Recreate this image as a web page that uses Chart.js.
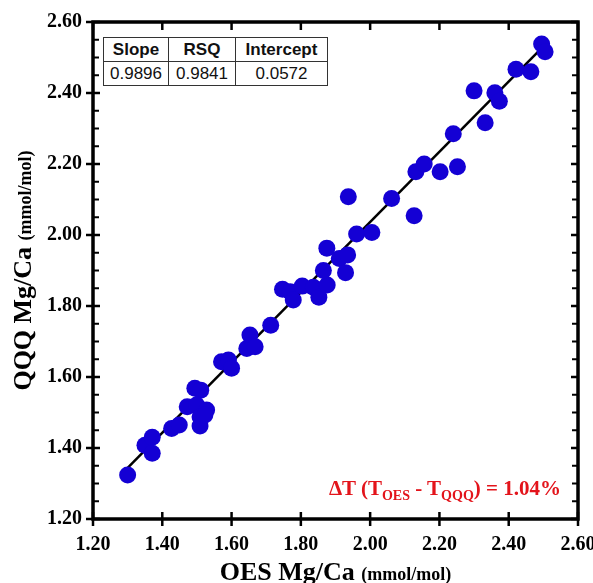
<!DOCTYPE html>
<html>
<head>
<meta charset="utf-8">
<script src="https://cdn.jsdelivr.net/npm/chart.js@4.4.1/dist/chart.umd.min.js"></script>
<style>
html,body{margin:0;padding:0;background:#fff;}
#wrap{position:relative;width:593px;height:583px;}
#stats{position:absolute;left:103px;top:37px;width:224px;border-collapse:collapse;table-layout:fixed;background:#fff;
  font-family:"Liberation Sans",Arial,sans-serif;font-size:17px;color:#111;}
#stats th,#stats td{border:1.5px solid #333;padding:0;text-align:center;height:23px;line-height:20px;}
#stats th{font-weight:bold;}
#note{position:absolute;right:32px;top:477px;color:#e3141b;font:bold 21px "Liberation Serif","Times New Roman",serif;white-space:nowrap;line-height:22px;}
#note sub{font-size:14px;vertical-align:-5px;}
</style>
</head>
<body>
<div id="wrap">
  <canvas id="chart" width="593" height="583"></canvas>
  <table id="stats">
    <colgroup><col style="width:65px"><col style="width:67px"><col style="width:92px"></colgroup>
    <tr><th>Slope</th><th>RSQ</th><th>Intercept</th></tr>
    <tr><td>0.9896</td><td>0.9841</td><td>0.0572</td></tr>
  </table>
  <div id="note">&Delta;T (T<sub>OES</sub> - T<sub>QQQ</sub>) = 1.04%</div>
</div>
<script>
// ═══════════ DATA ═══════════
const oesX=[1.300,1.350,1.371,1.371,1.427,1.449,1.472,1.494,1.511,1.499,1.528,1.509,1.509,1.523,
  1.571,1.591,1.600,1.644,1.653,1.668,1.713,1.747,1.769,1.778,1.804,1.836,1.852,1.876,1.865,1.875,
  1.911,1.935,1.929,1.937,1.961,2.005,2.062,2.127,2.132,2.156,2.202,2.252,2.240,2.332,2.300,2.360,
  2.373,2.421,2.464,2.495,2.505];
const qqqY=[1.324,1.408,1.430,1.385,1.455,1.465,1.516,1.568,1.563,1.521,1.507,1.488,1.462,1.493,
  1.643,1.648,1.625,1.680,1.718,1.685,1.746,1.847,1.840,1.817,1.856,1.853,1.825,1.859,1.900,1.963,
  1.934,1.944,1.894,2.108,2.003,2.007,2.103,2.054,2.178,2.200,2.178,2.192,2.285,2.316,2.406,2.401,
  2.377,2.467,2.460,2.538,2.516];
// regression line ends
const fitX=[1.30,2.51];
const fitY=[1.344,2.541];
const xTicks=[1.2,1.4,1.6,1.8,2.0,2.2,2.4,2.6];
const yTicks=[1.2,1.4,1.6,1.8,2.0,2.2,2.4,2.6];
const yMinor=[1.25,1.3,1.35,1.45,1.5,1.55,1.65,1.7,1.75,1.85,1.9,1.95,2.05,2.1,2.15,2.25,2.3,2.35,2.45,2.5,2.55];

const serif='"Liberation Serif","Times New Roman",serif';

// frame, tick marks and axis titles
const frame={
  id:'frame',
  afterDraw(chart){
    const {ctx,chartArea:a,scales:{x,y}}=chart;
    const seg=(x1,y1,x2,y2)=>{ctx.beginPath();ctx.moveTo(x1,y1);ctx.lineTo(x2,y2);ctx.stroke();};
    ctx.save();
    ctx.strokeStyle='#000';
    ctx.lineWidth=2.5;
    xTicks.forEach(v=>{
      const p=x.getPixelForValue(v);
      seg(p,a.bottom-7,p,a.bottom+7);
      seg(p,a.top,p,a.top+8);
    });
    yTicks.forEach(v=>{
      const p=y.getPixelForValue(v);
      seg(a.left-7,p,a.left+7,p);
      seg(a.right-7,p,a.right,p);
    });
    ctx.lineWidth=2;
    yMinor.forEach(v=>{
      const p=y.getPixelForValue(v);
      seg(a.left,p,a.left+6,p);
      seg(a.right-6,p,a.right,p);
    });
    ctx.lineWidth=3.5;
    ctx.strokeRect(a.left,a.top,a.right-a.left,a.bottom-a.top);

    // axis titles, two sizes each
    ctx.fillStyle='#000';
    ctx.textBaseline='alphabetic';
    const big='bold 26px '+serif, small='bold 18px '+serif;
    const drawTitle=(main,unit)=>{
      ctx.font=big;const w1=ctx.measureText(main).width;
      ctx.font=small;const w2=ctx.measureText(unit).width;
      const s=-(w1+w2)/2;
      ctx.font=big;ctx.fillText(main,s,0);
      ctx.font=small;ctx.fillText(unit,s+w1,0);
    };
    ctx.save();
    ctx.translate((a.left+a.right)/2,580);
    drawTitle('OES Mg/Ca ','(mmol/mol)');
    ctx.restore();
    ctx.save();
    ctx.translate(31,(a.top+a.bottom)/2);
    ctx.rotate(-Math.PI/2);
    drawTitle('QQQ Mg/Ca ','(mmol/mol)');
    ctx.restore();
    ctx.restore();
  }
};

const tickFont={family:serif,weight:'bold',size:20};

new Chart(document.getElementById('chart'),{
  type:'scatter',
  data:{
    datasets:[
      {
        label:'samples',
        data:oesX.map((v,i)=>({x:v,y:qqqY[i]})),
        backgroundColor:'#1400d4',
        borderWidth:0,
        pointRadius:8.5,
        pointHoverRadius:8.5,
        order:0
      },
      {
        type:'line',
        label:'fit',
        data:fitX.map((v,i)=>({x:v,y:fitY[i]})),
        borderColor:'#000',
        borderWidth:2.5,
        pointRadius:0,
        fill:false,
        order:1
      }
    ]
  },
  options:{
    responsive:false,
    animation:false,
    layout:{padding:{left:0,right:15,top:22,bottom:0}},
    plugins:{legend:{display:false},tooltip:{enabled:false}},
    scales:{
      x:{
        type:'linear',min:1.2,max:2.6,
        grid:{display:false,drawTicks:false},
        border:{display:false},
        ticks:{stepSize:0.2,padding:14,color:'#000',font:tickFont,callback:v=>v.toFixed(2)},
        afterFit(s){s.height=64;s.paddingLeft=0;s.paddingRight=0;}
      },
      y:{
        type:'linear',min:1.2,max:2.6,
        grid:{display:false,drawTicks:false},
        border:{display:false},
        ticks:{stepSize:0.2,padding:11,color:'#000',font:tickFont,callback:v=>v.toFixed(2)},
        afterFit(s){s.width=93;s.paddingTop=0;s.paddingBottom=0;}
      }
    }
  },
  plugins:[frame]
});
</script>
</body>
</html>
